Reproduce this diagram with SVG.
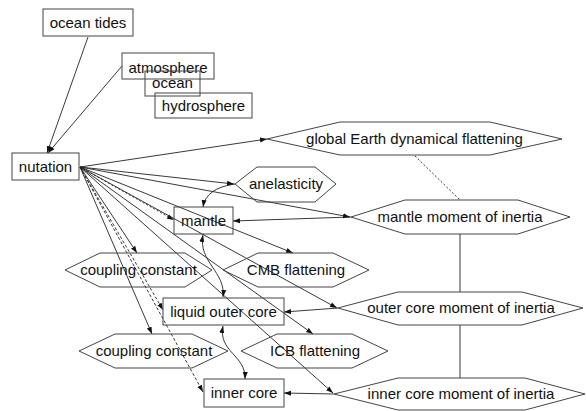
<svg xmlns="http://www.w3.org/2000/svg" width="586" height="411" viewBox="0 0 586 411">
<defs>
<marker id="ah" markerUnits="userSpaceOnUse" markerWidth="8" markerHeight="6" refX="7" refY="3" orient="auto-start-reverse">
<path d="M0,0.5 L7,3 L0,5.5 Z" fill="#111"/>
</marker>
</defs>
<style>
.n rect,.n polygon{fill:none;stroke:#444;stroke-width:1}
.n text{font-family:"Liberation Sans",Arial,sans-serif;font-size:15px;fill:#111;text-anchor:middle}
#edges path,#edges line{fill:none;stroke:#222;stroke-width:0.9}
.a{marker-end:url(#ah)}
.b{marker-start:url(#ah);marker-end:url(#ah)}
.dot{stroke-dasharray:2,2}
.dash{stroke-dasharray:3,2}
</style>
<rect width="586" height="411" fill="#fff"/>
<g id="edges">
<line class="a" x1="88" y1="37" x2="47" y2="153"/>
<line class="a" x1="122" y1="66" x2="48" y2="153"/>
<line class="a" x1="80" y1="167" x2="267" y2="139"/>
<line class="a" x1="80" y1="167" x2="234" y2="184"/>
<line class="a" x1="80" y1="167" x2="350" y2="217"/>
<line class="a dot" x1="80" y1="167" x2="174" y2="220"/>
<line class="a" x1="80" y1="167" x2="293" y2="253"/>
<line class="a" x1="80" y1="167" x2="137" y2="253"/>
<line class="a" x1="80" y1="167" x2="337" y2="308"/>
<line class="a dash" x1="80" y1="167" x2="163" y2="310"/>
<line class="a" x1="80" y1="167" x2="152" y2="334"/>
<line class="a" x1="80" y1="167" x2="313" y2="334"/>
<line class="a" x1="80" y1="167" x2="333" y2="393"/>
<line class="a dash" x1="80" y1="167" x2="203" y2="392"/>
<path class="a" d="M235,184 Q206,188 203,207"/>
<path class="b" d="M203,235 C198,262 226,272 223,297"/>
<path class="b" d="M223,326 C218,352 246,355 245,379"/>
<line class="a" x1="351" y1="217" x2="233" y2="221"/>
<line class="a" x1="338" y1="308" x2="284" y2="312"/>
<line class="a" x1="334" y1="394" x2="284" y2="393"/>
<line class="dot" x1="415" y1="156" x2="460" y2="200"/>
<line x1="460" y1="234" x2="460" y2="292"/>
<line x1="460" y1="325" x2="460" y2="378"/>
</g>
<g id="ocean-tides" class="n"><rect x="43" y="9" width="90" height="27"/><text x="88" y="28">ocean tides</text></g>
<g id="atmosphere" class="n"><rect x="122" y="53" width="92" height="26"/><text x="168" y="73">atmosphere</text></g>
<g id="ocean" class="n"><rect x="145" y="71" width="55" height="25"/><text x="172.5" y="88">ocean</text></g>
<g id="hydrosphere" class="n"><rect x="155" y="93" width="97" height="25"/><text x="203.5" y="111">hydrosphere</text></g>
<g id="nutation" class="n"><rect x="12" y="153" width="67" height="27"/><text x="45.5" y="172">nutation</text></g>
<g id="global-flattening" class="n"><polygon points="267,139 340,122 490,122 562,139 490,155 340,155"/><text x="414.5" y="144">global Earth dynamical flattening</text></g>
<g id="anelasticity" class="n"><polygon points="235,184 257,167 315,167 336,184 315,202 257,202"/><text x="286" y="189">anelasticity</text></g>
<g id="mantle" class="n"><rect x="174" y="207" width="59" height="27"/><text x="203.5" y="226">mantle</text></g>
<g id="mantle-moi" class="n"><polygon points="351,217 405,200 518,200 570,217 518,234 405,234"/><text x="460" y="222">mantle moment of inertia</text></g>
<g id="coupling-1" class="n"><polygon points="65,270 100,253 185,253 212,270 185,287 100,287"/><text x="138.5" y="275">coupling constant</text></g>
<g id="cmb" class="n"><polygon points="223,270 258,253 333,253 369,270 333,287 258,287"/><text x="296" y="275">CMB flattening</text></g>
<g id="liquid-outer-core" class="n"><rect x="163" y="298" width="121" height="27"/><text x="223.5" y="317">liquid outer core</text></g>
<g id="outer-core-moi" class="n"><polygon points="338,308 398,292 522,292 583,308 522,325 398,325"/><text x="461" y="313">outer core moment of inertia</text></g>
<g id="coupling-2" class="n"><polygon points="79,351 115,334 192,334 228,351 192,368 115,368"/><text x="154" y="356">coupling constant</text></g>
<g id="icb" class="n"><polygon points="241,351 277,334 352,334 388,351 352,368 277,368"/><text x="315" y="356">ICB flattening</text></g>
<g id="inner-core" class="n"><rect x="204" y="379" width="80" height="28"/><text x="244" y="398">inner core</text></g>
<g id="inner-core-moi" class="n"><polygon points="334,394 398,378 525,378 585,394 525,410 398,410"/><text x="461" y="399">inner core moment of inertia</text></g>
</svg>
